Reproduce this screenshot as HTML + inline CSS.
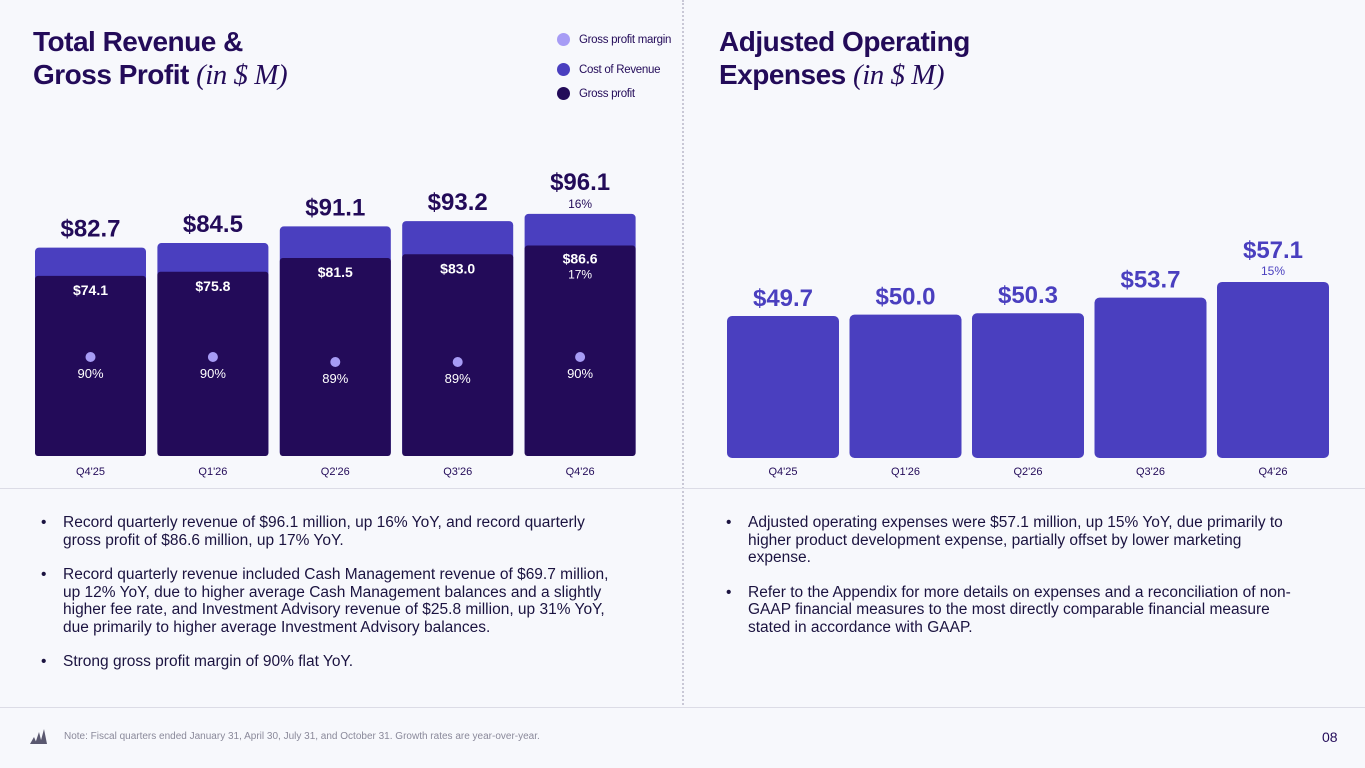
<!DOCTYPE html>
<html><head><meta charset="utf-8">
<style>
body{margin:0;width:1365px;height:768px;background:#f7f8fc;font-family:"Liberation Sans",sans-serif;position:relative;overflow:hidden;color:#230b59}
.title{position:absolute;font-weight:900;font-size:28px;line-height:33px;color:#230b59;letter-spacing:-0.5px}
.title i{font-family:"Liberation Serif",serif;font-weight:400;font-size:29px}
.bul{position:absolute;font-size:15.5px;line-height:17.5px;color:#1b1340;margin:0;padding:0;list-style:none}
.bul li{position:relative;padding-left:28px;margin-bottom:17px}
.bul li:before{content:"•";position:absolute;left:6px}
.leg{position:absolute;font-size:11.5px;color:#230b59;display:flex;align-items:center;letter-spacing:-0.3px}
.leg span{width:13px;height:13px;border-radius:50%;display:inline-block;margin-right:9px}
</style></head><body>
<div class="title" style="left:33px;top:25px">Total Revenue &amp;<br>Gross Profit <i>(in $ M)</i></div>
<div class="title" style="left:719px;top:25px">Adjusted Operating<br>Expenses <i>(in $ M)</i></div>
<div class="leg" style="left:557px;top:33px"><span style="background:#a79cf5"></span>Gross profit margin</div>
<div class="leg" style="left:557px;top:63px"><span style="background:#4a3fbf"></span>Cost of Revenue</div>
<div class="leg" style="left:557px;top:87px"><span style="background:#230b59"></span>Gross profit</div>
<div style="position:absolute;left:682px;top:0;height:705px;border-left:2px dotted #c9c8d6"></div>
<div style="position:absolute;left:0;width:1365px;top:488px;border-top:1px solid #dcdce6"></div>
<div style="position:absolute;left:0;width:1365px;top:707px;border-top:1px solid #dcdce6"></div>
<svg id="chart" width="1365" height="768" style="position:absolute;left:0;top:0"></svg>
<ul class="bul" style="left:35px;top:514px;width:590px">
<li>Record quarterly revenue of $96.1 million, up 16% YoY, and record quarterly gross profit of $86.6 million, up 17% YoY.</li>
<li>Record quarterly revenue included Cash Management revenue of $69.7 million, up 12% YoY, due to higher average Cash Management balances and a slightly higher fee rate, and Investment Advisory revenue of $25.8 million, up 31% YoY, due primarily to higher average Investment Advisory balances.</li>
<li>Strong gross profit margin of 90% flat YoY.</li></ul>
<ul class="bul" style="left:720px;top:514px;width:580px">
<li>Adjusted operating expenses were $57.1 million, up 15% YoY, due primarily to higher product development expense, partially offset by lower marketing expense.</li>
<li>Refer to the Appendix for more details on expenses and a reconciliation of non-GAAP financial measures to the most directly comparable financial measure stated in accordance with GAAP.</li></ul>
<svg width="20" height="20" style="position:absolute;left:28px;top:727px"><path d="M2 17 L6 10 L9 17Z M7 17 L11 5 L14 17Z M12 17 L16 2 L19 17Z" fill="#5a5870"/></svg>
<div style="position:absolute;left:64px;top:731px;font-size:10px;color:#8a899a">Note: Fiscal quarters ended January 31, April 30, July 31, and October 31. Growth rates are year-over-year.</div>
<div style="position:absolute;left:1322px;top:729px;font-size:14px;color:#230b59">08</div>
<script>
const quarters=["Q4'25","Q1'26","Q2'26","Q3'26","Q4'26"];
const revenue=[82.7,84.5,91.1,93.2,96.1];
const grossProfit=[74.1,75.8,81.5,83.0,86.6];
const margin=[90,90,89,89,90];
const revGrowth=[null,null,null,null,"16%"];
const gpGrowth=[null,null,null,null,"17%"];
const opex=[49.7,50.0,50.3,53.7,57.1];
const opexGrowth=[null,null,null,null,"15%"];
const svg=document.getElementById('chart');const NS='http://www.w3.org/2000/svg';
function mk(t,a,txt){const e=document.createElementNS(NS,t);for(const k in a)e.setAttribute(k,a[k]);if(txt!=null)e.textContent=txt;svg.appendChild(e);return e;}
const lBase=456,lScale=2.52,gScale=2.43,lX0=35,lStep=122.4,lW=111;
const yL=v=>lBase-v*lScale, yG=v=>lBase-v*gScale, xL=i=>lX0+i*lStep;
const yM=m=>357+(90-m)*5;
quarters.forEach((q,i)=>{
 const x=xL(i);
 let e=mk('rect',{x:x,y:yL(revenue[i]),width:lW,height:lBase-yL(revenue[i]),rx:4,fill:'#4a3fbf'});
 
 const gpTop=yG(grossProfit[i]);
 e=mk('rect',{x:x,y:gpTop,width:lW,height:lBase-gpTop,rx:3,fill:'#230b59'});
 
 e=mk('text',{x:x+lW/2,y:yL(revenue[i])-(revGrowth[i]?24:11),'text-anchor':'middle','font-size':24,'font-weight':900,fill:'#230b59'},'$'+revenue[i].toFixed(1));
 
 if(revGrowth[i]){e=mk('text',{x:x+lW/2,y:yL(revenue[i])-6,'text-anchor':'middle','font-size':12,fill:'#230b59'},revGrowth[i]);
 }
 e=mk('text',{x:x+lW/2,y:gpTop+(gpGrowth[i]?18:19),'text-anchor':'middle','font-size':14,'font-weight':700,fill:'#fff'},'$'+grossProfit[i].toFixed(1));
 
 if(gpGrowth[i]){e=mk('text',{x:x+lW/2,y:gpTop+33,'text-anchor':'middle','font-size':12,fill:'#fff'},gpGrowth[i]);
 }
 e=mk('circle',{cx:x+lW/2,cy:yM(margin[i]),r:5,fill:'#a79cf5'});
 
 e=mk('text',{x:x+lW/2,y:yM(margin[i])+21,'text-anchor':'middle','font-size':13,fill:'#fff'},margin[i]+'%');
 
 e=mk('text',{x:x+lW/2,y:475,'text-anchor':'middle','font-size':11,fill:'#230b59'},q);
 
});
const rBase=458,rX0=727,rStep=122.5,rW=112;
const yR=v=>316-(v-49.7)*4.6, xR=i=>rX0+i*rStep;
quarters.forEach((q,i)=>{
 const x=xR(i);
 let e=mk('rect',{x:x,y:yR(opex[i]),width:rW,height:rBase-yR(opex[i]),rx:5,fill:'#4a3fbf'});
 
 e=mk('text',{x:x+rW/2,y:yR(opex[i])-(opexGrowth[i]?24:10),'text-anchor':'middle','font-size':24,'font-weight':900,fill:'#4a3fbf'},'$'+opex[i].toFixed(1));
 
 if(opexGrowth[i]){e=mk('text',{x:x+rW/2,y:yR(opex[i])-7,'text-anchor':'middle','font-size':12,fill:'#4a3fbf'},opexGrowth[i]);
 }
 e=mk('text',{x:x+rW/2,y:475,'text-anchor':'middle','font-size':11,fill:'#230b59'},q);
 
});
</script>
</body></html>
